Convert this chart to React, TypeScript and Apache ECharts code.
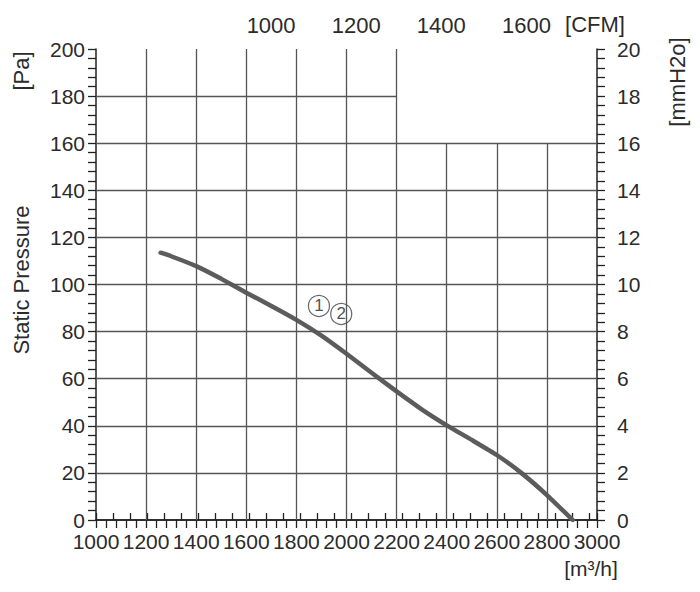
import React, { useEffect, useRef } from "react";
import * as echarts from "echarts";

// Fan curve: airflow [m3/h] vs static pressure [Pa]
const FLOW = [1258, 1300, 1400, 1500, 1600, 1700, 1800, 1900, 2000, 2100, 2200, 2300, 2400, 2500, 2600, 2700, 2800, 2903];
const PRESSURE = [113.5, 112, 107.8, 102.4, 96.5, 90.9, 85, 78.3, 70.6, 62.5, 54.6, 47, 40.2, 34, 27.6, 19.8, 10.6, 0];

// Curve markers (circled numbers)
const MARK_FLOW = [1890, 1979];
const MARK_PRESSURE = [90.9, 87.5];
const MARK_TEXT = ["1", "2"];

// Grid lines (partial grid in the upper right corner)
const X_GRID = [1200, 1400, 1600, 1800, 2000, 2200, 2400, 2600, 2800];
const X_GRID_TOP = [200, 200, 200, 200, 200, 200, 160, 160, 160];
const Y_GRID = [20, 40, 60, 80, 100, 120, 140, 160, 180];
const Y_GRID_END = [3000, 3000, 3000, 3000, 3000, 3000, 3000, 3000, 2200];

// Axis ranges and labels
const FLOW_MIN = 1000;
const FLOW_MAX = 3000;
const PA_MAX = 200;
const MMH2O_MAX = 20;
const M3H_PER_CFM = 1.699;
const CFM_LABELS = [1000, 1200, 1400, 1600];
const CFM_TICK_STEP = 40;

const FONT = "'Liberation Sans', Arial, Helvetica, sans-serif";
const TEXT = "#2b2b2b";
const AXIS = "#222";
const GRID = "#555";

export default function App() {
  const ref = useRef<HTMLDivElement>(null);
  useEffect(() => {
    document.body.style.margin = "0";
    if (!ref.current) return;
    const chart = echarts.init(ref.current, null, { renderer: "svg" });
    const cfmMin = FLOW_MIN / M3H_PER_CFM;
    const cfmMax = FLOW_MAX / M3H_PER_CFM;
    const gridSegs: any[] = [];
    X_GRID.forEach((x, i) => gridSegs.push([{ coord: [x, 0] }, { coord: [x, X_GRID_TOP[i]] }]));
    Y_GRID.forEach((y, i) => gridSegs.push([{ coord: [FLOW_MIN, y] }, { coord: [Y_GRID_END[i], y] }]));

    const tickStyle = { show: true, inside: false, length: 8, lineStyle: { color: AXIS, width: 1.3 } };
    const minorStyle = { show: true, splitNumber: 5, length: 8, lineStyle: { color: AXIS, width: 1.3 } };
    const axisLine = { show: true, lineStyle: { color: AXIS, width: 1.5 } };
    const label = {
      color: TEXT, fontSize: 21, fontFamily: FONT,
      showMinLabel: true, showMaxLabel: true, hideOverlap: false,
      formatter: (v: number) => String(v),
    };

    chart.setOption({
      animation: false,
      backgroundColor: "#fff",
      textStyle: { fontFamily: FONT },
      grid: { left: 96, right: 103, top: 49, bottom: 72 },
      xAxis: [
        {
          type: "value", position: "bottom", min: FLOW_MIN, max: FLOW_MAX, interval: 200,
          axisLine, axisTick: tickStyle, minorTick: minorStyle,
          axisLabel: { ...label, margin: 11 }, splitLine: { show: false },
        },
        {
          type: "value", position: "top", min: cfmMin, max: cfmMax, interval: CFM_TICK_STEP,
          axisLine, axisTick: { ...tickStyle, length: 7 }, axisLabel: { show: false }, splitLine: { show: false },
        },
        {
          type: "value", position: "top", min: cfmMin, max: cfmMax,
          axisLine: { show: false }, axisTick: { show: false }, splitLine: { show: false },
          axisLabel: { ...label, fontSize: 22, margin: 13, customValues: CFM_LABELS },
        },
      ],
      yAxis: [
        {
          type: "value", position: "left", min: 0, max: PA_MAX, interval: 20,
          axisLine, axisTick: tickStyle, minorTick: minorStyle,
          axisLabel: { ...label, margin: 11 }, splitLine: { show: false },
        },
        {
          type: "value", position: "right", min: 0, max: MMH2O_MAX, interval: 2,
          axisLine, axisTick: tickStyle, minorTick: minorStyle,
          axisLabel: { ...label, margin: 20 }, splitLine: { show: false },
        },
      ],
      series: [
        {
          type: "line", data: [], z: 1, silent: true,
          markLine: {
            silent: true, symbol: ["none", "none"], label: { show: false },
            lineStyle: { type: "solid", color: GRID, width: 1.3 },
            emphasis: { disabled: true },
            data: gridSegs,
          },
        },
        {
          type: "line", z: 3, smooth: 0.15, symbol: "none",
          lineStyle: { color: "#5c5c5c", width: 4.5, cap: "round" },
          data: FLOW.map((f, i) => [f, PRESSURE[i]]),
        },
        {
          type: "scatter", z: 4, symbol: "circle", symbolSize: 21,
          itemStyle: { color: "rgba(255,255,255,0.9)", borderColor: "#444", borderWidth: 1.2 },
          label: {
            show: true, position: "inside", color: "#222", fontSize: 17, fontFamily: FONT,
            formatter: (p: any) => p.data[2],
          },
          data: MARK_FLOW.map((f, i) => [f, MARK_PRESSURE[i], MARK_TEXT[i]]),
        },
      ],
      graphic: [
        {
          type: "text", x: 21, y: 280, rotation: Math.PI / 2,
          style: { text: "Static Pressure", font: `22px ${FONT}`, fill: TEXT, align: "center", verticalAlign: "middle" },
        },
        {
          type: "text", x: 21, y: 71, rotation: Math.PI / 2,
          style: { text: "[Pa]", font: `22px ${FONT}`, fill: TEXT, align: "center", verticalAlign: "middle" },
        },
        {
          type: "text", x: 677, y: 82, rotation: Math.PI / 2,
          style: { text: "[mmH2o]", font: `22px ${FONT}`, fill: TEXT, align: "center", verticalAlign: "middle" },
        },
        {
          type: "text", x: 595, y: 24,
          style: { text: "[CFM]", font: `22px ${FONT}`, fill: TEXT, align: "center", verticalAlign: "middle" },
        },
        {
          type: "text", x: 591, y: 568,
          style: { text: "[m³/h]", font: `21px ${FONT}`, fill: TEXT, align: "center", verticalAlign: "middle" },
        },
      ],
    });
    return () => chart.dispose();
  }, []);
  return <div ref={ref} style={{ width: 700, height: 592 }} />;
}
